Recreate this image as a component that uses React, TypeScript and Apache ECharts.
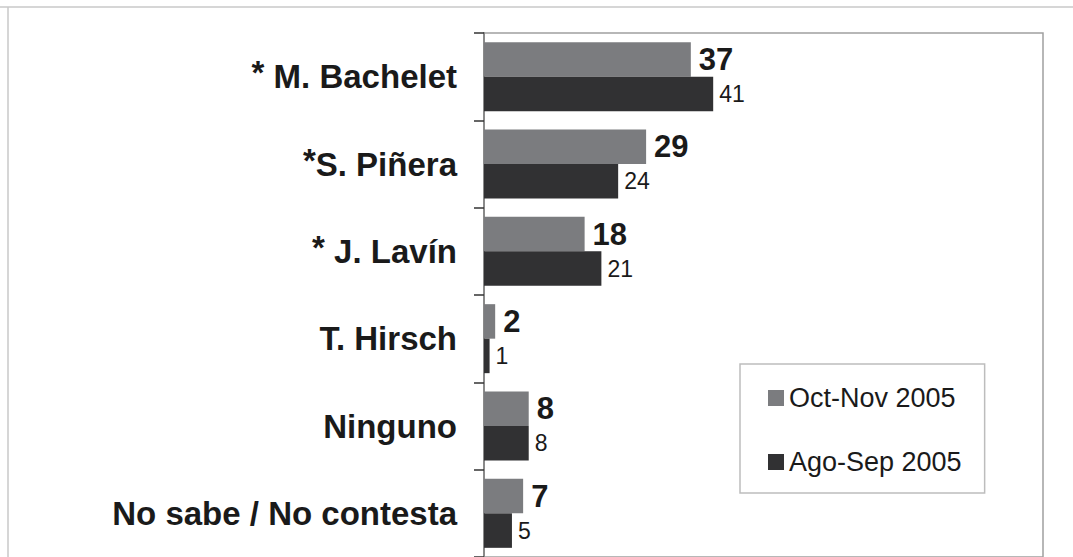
import React, { useEffect, useRef } from "react";
import * as echarts from "echarts";

const categories = ["*M. Bachelet", "*S. Piñera", "*J. Lavín", "T. Hirsch", "Ninguno", "No sabe / No contesta"];
const starGap = [" ", "", " ", "", "", ""];
const seriesNames = ["Oct-Nov 2005", "Ago-Sep 2005"];
const octNov = [37, 29, 18, 2, 8, 7];
const agoSep = [41, 24, 21, 1, 8, 5];

const FONT = "'Liberation Sans', Arial, sans-serif";

export default function App() {
  const ref = useRef<HTMLDivElement>(null);
  useEffect(() => {
    if (!ref.current) return;
    const chart = echarts.init(ref.current, undefined, { renderer: "svg" });
    chart.setOption({
      animation: false,
      backgroundColor: "#ffffff",
      textStyle: { fontFamily: FONT },
      graphic: [
        { type: "line", shape: { x1: 0, y1: 7, x2: 1073, y2: 7 }, style: { stroke: "#c8c8c8", lineWidth: 1.5 } },
        { type: "line", shape: { x1: 8, y1: 7, x2: 8, y2: 557 }, style: { stroke: "#c8c8c8", lineWidth: 1.5 } },
      ],
      grid: {
        left: 484,
        top: 33,
        width: 559,
        height: 526,
        show: true,
        borderColor: "#a0a0a0",
        borderWidth: 1.5,
        containLabel: false,
      },
      legend: {
        orient: "vertical",
        left: 740,
        top: 364,
        padding: [20, 23, 17, 28],
        itemGap: 36,
        itemWidth: 16,
        itemHeight: 16,
        icon: "rect",
        borderColor: "#bdbdbd",
        borderWidth: 1.5,
        backgroundColor: "#ffffff",
        textStyle: { fontSize: 27, lineHeight: 28, color: "#1a1a1a", fontFamily: FONT },
        data: seriesNames,
      },
      xAxis: {
        type: "value",
        min: 0,
        max: 100,
        show: false,
        splitLine: { show: false },
      },
      yAxis: {
        type: "category",
        inverse: true,
        data: categories,
        axisLine: { show: true, lineStyle: { color: "#8a8a8a", width: 2 } },
        axisTick: { show: true, length: 10, lineStyle: { color: "#333", width: 1.5 } },
        axisLabel: {
          margin: 27,
          fontSize: 33,
          fontWeight: "bold",
          color: "#1a1a1a",
          fontFamily: FONT,
          formatter: (v: string, i: number) =>
            v.startsWith("*") ? "{s|*}" + starGap[i] + v.slice(1) : v,
          rich: {
            s: {
              fontSize: 33,
              fontWeight: "bold",
              color: "#1a1a1a",
              fontFamily: FONT,
              padding: [0, 0, 8, 0],
            },
          },
        },
      },
      series: [
        {
          name: seriesNames[0],
          type: "bar",
          data: octNov,
          barGap: "0%",
          barCategoryGap: "21%",
          itemStyle: { color: "#7b7c7f" },
          label: {
            show: true,
            position: "right",
            distance: 8,
            fontSize: 31,
            fontWeight: "bold",
            color: "#1a1a1a",
            fontFamily: FONT,
          },
        },
        {
          name: seriesNames[1],
          type: "bar",
          data: agoSep,
          barGap: "0%",
          barCategoryGap: "21%",
          itemStyle: { color: "#313133" },
          label: {
            show: true,
            position: "right",
            distance: 6,
            fontSize: 23,
            color: "#1a1a1a",
            fontFamily: FONT,
          },
        },
      ],
    });
    return () => chart.dispose();
  }, []);
  return (
    <div
      ref={ref}
      style={{ position: "fixed", left: 0, top: 0, width: 1073, height: 557 }}
    />
  );
}
